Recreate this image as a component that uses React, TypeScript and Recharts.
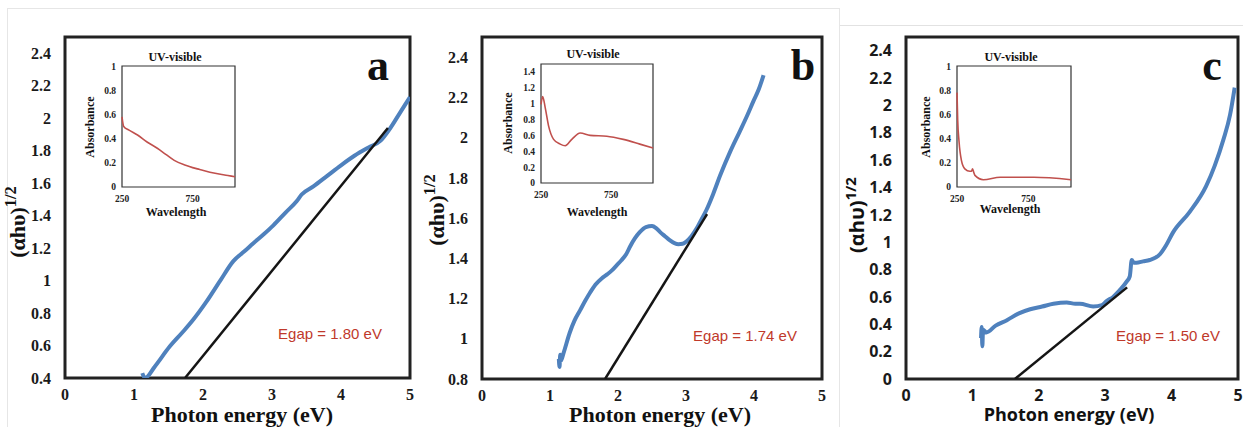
import React from 'react';
import { LineChart, Line, XAxis, YAxis, ReferenceArea } from 'recharts';

// tick labels
const energyTicks = [0, 1, 2, 3, 4, 5];
const aTicksY = [0.4, 0.6, 0.8, 1, 1.2, 1.4, 1.6, 1.8, 2, 2.2, 2.4];
const bTicksY = [0.8, 1, 1.2, 1.4, 1.6, 1.8, 2, 2.2, 2.4];
const cTicksY = [0, 0.2, 0.4, 0.6, 0.8, 1, 1.2, 1.4, 1.6, 1.8, 2, 2.2, 2.4];
const wavelengthTicks = [250, 750];
const absTicksAC = [0, 0.2, 0.4, 0.6, 0.8, 1];
const absTicksB = [0, 0.2, 0.4, 0.6, 0.8, 1, 1.2, 1.4];

// panel a - Tauc plot
const aEnergy = [1.12, 1.16, 1.3, 1.52, 1.7, 1.86, 2.05, 2.25, 2.44, 2.6, 2.73, 2.88, 3.02, 3.2, 3.36, 3.43, 3.6, 3.8, 4.0, 4.2, 4.4, 4.57, 4.7, 4.85, 5.0];
const aTauc = [0.43, 0.4, 0.47, 0.595, 0.68, 0.76, 0.87, 1.0, 1.12, 1.18, 1.23, 1.285, 1.34, 1.42, 1.49, 1.53, 1.58, 1.645, 1.71, 1.77, 1.82, 1.86, 1.93, 2.03, 2.13];
const aFitEnergy = [1.74, 4.68];
const aFitTauc = [0.4, 1.94];

// panel b
const bEnergy = [1.13, 1.14, 1.15, 1.16, 1.2, 1.29, 1.36, 1.44, 1.52, 1.59, 1.67, 1.76, 1.84, 1.91, 1.98, 2.05, 2.12, 2.18, 2.25, 2.32, 2.41, 2.5, 2.56, 2.62, 2.69, 2.76, 2.83, 2.89, 2.95, 3.01, 3.08, 3.16, 3.23, 3.3, 3.4, 3.5, 3.65, 3.79, 3.9, 3.99, 4.07, 4.14];
const bTauc = [0.9, 0.86, 0.92, 0.89, 0.93, 1.03, 1.09, 1.14, 1.19, 1.23, 1.27, 1.3, 1.32, 1.34, 1.365, 1.39, 1.42, 1.46, 1.5, 1.53, 1.555, 1.56, 1.55, 1.53, 1.51, 1.49, 1.475, 1.47, 1.472, 1.485, 1.51, 1.55, 1.595, 1.64, 1.72, 1.81, 1.93, 2.03, 2.11, 2.18, 2.24, 2.31];
const bFitEnergy = [1.81, 3.31];
const bFitTauc = [0.8, 1.62];

// panel c
const cEnergy = [1.13, 1.14, 1.15, 1.16, 1.21, 1.35, 1.52, 1.7, 1.87, 2.05, 2.22, 2.42, 2.55, 2.62, 2.82, 2.95, 3.02, 3.12, 3.22, 3.32, 3.37, 3.4, 3.43, 3.47, 3.57, 3.67, 3.82, 3.92, 4.02, 4.27, 4.52, 4.65, 4.78, 4.88, 4.95];
const cTauc = [0.3, 0.38, 0.24, 0.36, 0.34, 0.39, 0.43, 0.48, 0.51, 0.53, 0.55, 0.56, 0.55, 0.55, 0.53, 0.54, 0.57, 0.6, 0.65, 0.71, 0.75, 0.87, 0.85, 0.85, 0.86, 0.87, 0.91, 0.98, 1.07, 1.22, 1.41, 1.56, 1.75, 1.93, 2.13];
const cFitEnergy = [1.64, 3.33];
const cFitTauc = [0, 0.67];

// insets - UV-visible absorbance
const uvAWave = [250, 262, 300, 360, 430, 500, 560, 620, 700, 750, 800, 900, 1000, 1050];
const uvAAbs = [0.58, 0.5, 0.47, 0.43, 0.37, 0.32, 0.27, 0.22, 0.18, 0.16, 0.145, 0.115, 0.095, 0.085];
const uvBWave = [250, 262, 280, 304, 340, 387, 423, 470, 530, 601, 720, 838, 956, 1050];
const uvBAbs = [0.99, 1.09, 0.95, 0.72, 0.55, 0.49, 0.47, 0.55, 0.63, 0.6, 0.59, 0.55, 0.49, 0.44];
const uvCWave = [250, 255, 264, 281, 305, 340, 352, 359, 368, 376, 435, 553, 790, 1050];
const uvCAbs = [0.78, 0.55, 0.38, 0.22, 0.15, 0.13, 0.13, 0.15, 0.12, 0.096, 0.06, 0.08, 0.08, 0.06];

const zip = (xs: number[], ys: number[]) => xs.map((x, i) => ({ x, y: ys[i] }));

const SERIF = '"Liberation Serif", "Times New Roman", serif';
const SANS = '"Open Sans", "Liberation Sans", sans-serif';
const ARIAL = '"Liberation Sans", Arial, sans-serif';
const BLUE = '#4f81bd';
const RED = '#c0504d';

const Txt = ({ x, y, size, family, color = '#111', weight = 700, rotate = 0, lh = 1, children }: any) => (
  <div
    style={{
      position: 'absolute', left: x, top: y, fontSize: size, fontFamily: family, fontWeight: weight,
      color, whiteSpace: 'nowrap', lineHeight: lh,
      transform: `translate(-50%, -50%) rotate(${rotate}deg)`,
    }}
  >
    {children}
  </div>
);

function TaucChart({ left, width, mLeft, mRight, mBottom, yDomain, yTicks, font, blue, fit }: any) {
  const tick = { fontFamily: font, fontWeight: 700, fontSize: 16, fill: '#1a1a1a' };
  return (
    <div style={{ position: 'absolute', left, top: 0 }}>
      <LineChart width={width} height={427} margin={{ top: 37, right: mRight, left: mLeft, bottom: mBottom }}>
        <XAxis type="number" dataKey="x" domain={[0, 5]} ticks={energyTicks} height={45}
          tickLine={false} axisLine={false} tickSize={0} tickMargin={11} tick={tick} allowDataOverflow />
        <YAxis type="number" dataKey="y" domain={yDomain} ticks={yTicks} width={50}
          tickLine={false} axisLine={false} tickSize={0} tickMargin={14} tick={tick} allowDataOverflow />
        <ReferenceArea x1={0} x2={5} y1={yDomain[0]} y2={yDomain[1]} fill="none" fillOpacity={0}
          stroke="#222" strokeWidth={3} ifOverflow="visible" />
        <Line data={blue} dataKey="y" type="monotone" stroke={BLUE} strokeWidth={4} dot={false} isAnimationActive={false} />
        <Line data={fit} dataKey="y" type="linear" stroke="#151515" strokeWidth={2.5} dot={false} isAnimationActive={false} />
      </LineChart>
    </div>
  );
}

function UvInset({ box, yDomain, yTicks, data }: any) {
  const [x0, y0, x1, y1] = box;
  const tick = { fontFamily: SERIF, fontWeight: 700, fontSize: 9.5, fill: '#222' };
  return (
    <div style={{ position: 'absolute', left: x0 - 32, top: y0 - 4 }}>
      <LineChart width={x1 - x0 + 36} height={y1 - y0 + 26} margin={{ top: 4, right: 4, left: 2, bottom: 0 }}>
        <XAxis type="number" dataKey="x" domain={[250, 1050]} ticks={wavelengthTicks} height={22}
          tickLine={false} axisLine={false} tickSize={0} tickMargin={8} tick={tick} />
        <YAxis type="number" dataKey="y" domain={yDomain} ticks={yTicks} width={30}
          tickLine={false} axisLine={false} tickSize={0} tickMargin={6} tick={tick} />
        <ReferenceArea x1={250} x2={1050} y1={yDomain[0]} y2={yDomain[1]} fill="none" fillOpacity={0}
          stroke="#333" strokeWidth={1.2} ifOverflow="visible" />
        <Line data={data} dataKey="y" type="monotone" stroke={RED} strokeWidth={1.6} dot={false} isAnimationActive={false} />
      </LineChart>
    </div>
  );
}

const yTitle = <>(αhυ)<sup style={{ fontSize: '0.75em' }}>1/2</sup></>;

export default function App() {
  return (
    <div style={{ position: 'absolute', left: 0, top: 0, width: 1243, height: 427, background: '#fff', overflow: 'hidden' }}>
      <div style={{ position: 'absolute', left: 7, top: 8, width: 831, height: 430, border: '1px solid #e6e6e6' }} />
      <div style={{ position: 'absolute', left: 840, top: 25, width: 403, height: 1, background: '#e2e2e2' }} />

      <TaucChart left={0} width={420} mLeft={15} mRight={10} mBottom={4} yDomain={[0.4, 2.5]} yTicks={aTicksY}
        font={SERIF} blue={zip(aEnergy, aTauc)} fit={zip(aFitEnergy, aFitTauc)} />
      <TaucChart left={420} width={420} mLeft={12} mRight={18} mBottom={3} yDomain={[0.8, 2.5]} yTicks={bTicksY}
        font={SERIF} blue={zip(bEnergy, bTauc)} fit={zip(bFitEnergy, bFitTauc)} />
      <TaucChart left={840} width={403} mLeft={16} mRight={5} mBottom={3} yDomain={[0, 2.5]} yTicks={cTicksY}
        font={SANS} blue={zip(cEnergy, cTauc)} fit={zip(cFitEnergy, cFitTauc)} />

      <UvInset box={[122, 66, 235, 187]} yDomain={[0, 1]} yTicks={absTicksAC} data={zip(uvAWave, uvAAbs)} />
      <UvInset box={[541, 64, 653, 183]} yDomain={[0, 1.5]} yTicks={absTicksB} data={zip(uvBWave, uvBAbs)} />
      <UvInset box={[957, 66, 1071, 187]} yDomain={[0, 1]} yTicks={absTicksAC} data={zip(uvCWave, uvCAbs)} />

      {/* axis titles */}
      <Txt x={242} y={415} size={22} family={SERIF} lh={0.75}>Photon energy (eV)</Txt>
      <Txt x={660} y={415} size={22} family={SERIF} lh={0.75}>Photon energy (eV)</Txt>
      <Txt x={1069} y={415} size={18} family={SANS} lh={0.75}>Photon energy (eV)</Txt>
      <Txt x={16} y={222} size={22} family={SERIF} rotate={-90}>{yTitle}</Txt>
      <Txt x={435} y={210} size={22} family={SERIF} rotate={-90}>{yTitle}</Txt>
      <Txt x={855} y={215} size={20} family={SANS} rotate={-90}>{yTitle}</Txt>

      {/* inset titles */}
      <Txt x={175} y={57} size={12} family={SERIF}>UV-visible</Txt>
      <Txt x={90} y={127} size={12} family={SERIF} rotate={-90}>Absorbance</Txt>
      <Txt x={176} y={212} size={12} family={SERIF}>Wavelength</Txt>
      <Txt x={593} y={54} size={12} family={SERIF}>UV-visible</Txt>
      <Txt x={508} y={123} size={12} family={SERIF} rotate={-90}>Absorbance</Txt>
      <Txt x={597} y={212} size={12} family={SERIF}>Wavelength</Txt>
      <Txt x={1011} y={57} size={12} family={SERIF}>UV-visible</Txt>
      <Txt x={926} y={127} size={12} family={SERIF} rotate={-90}>Absorbance</Txt>
      <Txt x={1010} y={209} size={12} family={SERIF}>Wavelength</Txt>

      {/* panel letters */}
      <Txt x={378} y={66} size={44} family={SERIF}>a</Txt>
      <Txt x={803} y={66} size={44} family={SERIF}>b</Txt>
      <Txt x={1212} y={66} size={44} family={SERIF}>c</Txt>

      {/* band gap labels */}
      <Txt x={330} y={333} size={15} family={ARIAL} weight={400} color="#c0392b">Egap = 1.80 eV</Txt>
      <Txt x={745} y={335} size={15} family={ARIAL} weight={400} color="#c0392b">Egap = 1.74 eV</Txt>
      <Txt x={1168} y={335} size={15} family={ARIAL} weight={400} color="#c0392b">Egap = 1.50 eV</Txt>
    </div>
  );
}
